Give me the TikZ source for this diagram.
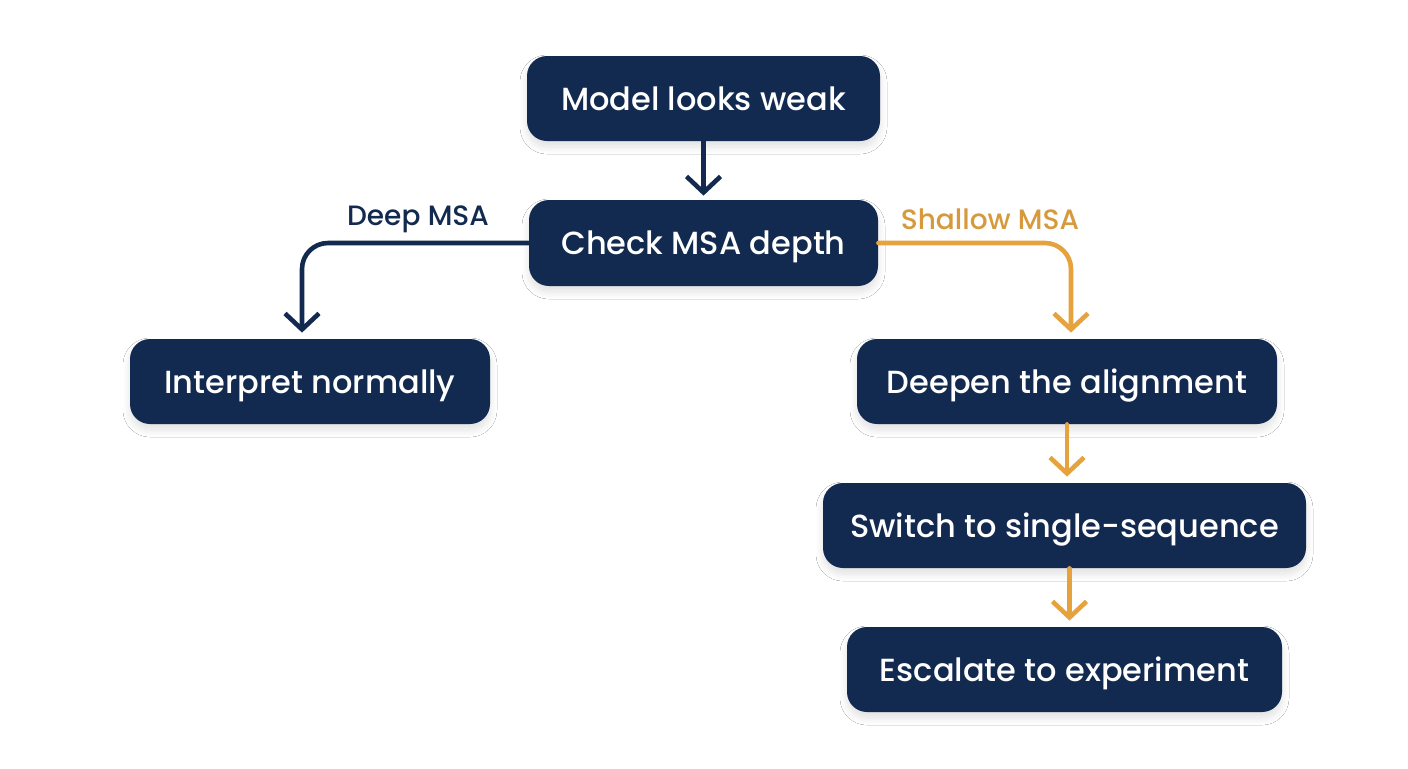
\documentclass[tikz,border=0pt]{standalone}
\usepackage{fontspec}
\setmainfont{Poppins Medium}
\usetikzlibrary{arrows.meta,shadows.blur}
\definecolor{navy}{HTML}{132A50}
\definecolor{gold}{HTML}{E6A23C}
\definecolor{goldtext}{HTML}{D69A3C}
\tikzset{
  box/.style={draw=none, fill=navy, rounded corners=10pt, text=white, font=\fontsize{16}{19}\selectfont, align=center, inner sep=0pt, text depth=-1pt,
    blur shadow={shadow xshift=0pt, shadow yshift=-3pt, shadow opacity=12, shadow blur steps=10, shadow blur radius=3.5pt}},
  conn/.style={line width=2.3pt, rounded corners=13pt, line cap=round, line join=round,
    -{Straight Barb[length=8pt,width=17pt,line width=2.3pt]}},
  navyconn/.style={conn, draw=navy},
  goldconn/.style={conn, draw=gold},
  lbl/.style={font=\fontsize{14}{16}\selectfont, inner sep=0pt}
}
\begin{document}
\begin{tikzpicture}[x=0.5pt,y=-0.5pt]
\useasboundingbox (0,0) rectangle (1408,768);
\fill[white] (0,0) rectangle (1408,768);
\node[box, minimum width=176.5pt, minimum height=42.5pt] (model) at (703.5,98.5) {Model looks weak};
\node[box, minimum width=174.5pt, minimum height=43pt] (check) at (703.5,243) {Check MSA depth};
\node[box, minimum width=180pt, minimum height=42.5pt] (interp) at (310,381.5) {Interpret normally};
\node[box, minimum width=210pt, minimum height=42.5pt] (deepen) at (1067,381.5) {Deepen the alignment};
\node[box, minimum width=241.5pt, minimum height=42.5pt] (switch) at (1064.5,525.5) {Switch to single-sequence};
\node[box, minimum width=217.5pt, minimum height=42.5pt] (esc) at (1064.5,669.5) {Escalate to experiment};
\draw[navyconn] (model.south) -- ([yshift=2pt]check.north);
\draw[navyconn] (check.west) -| ([xshift=-4pt,yshift=3pt]interp.north);
\draw[goldconn] (check.east) -| ([xshift=2pt,yshift=3pt]deepen.north);
\draw[goldconn] (deepen.south) -- ([yshift=3pt]deepen.south |- switch.north);
\draw[goldconn] ([xshift=2.5pt]switch.south) -- ([xshift=2.5pt,yshift=3pt]switch.south |- esc.north);
\node[lbl, text=navy] (deeplbl) at (418,219) {Deep MSA};
\node[lbl, text=goldtext] (shallowlbl) at (990,219) {Shallow MSA};
\end{tikzpicture}
\end{document}
